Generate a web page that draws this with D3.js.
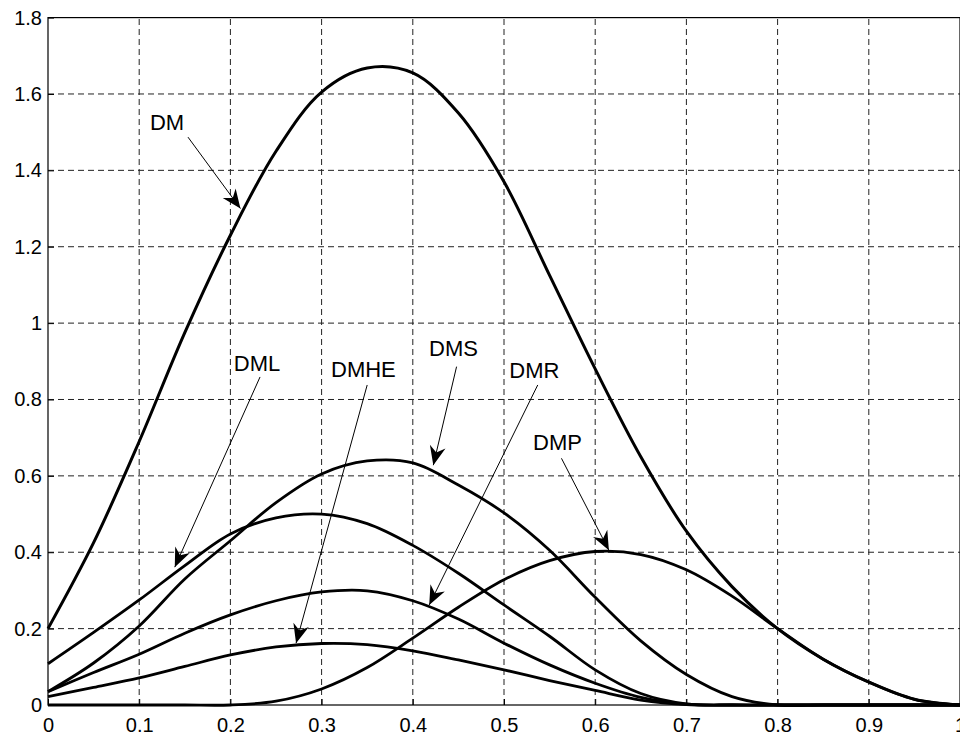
<!DOCTYPE html>
<html>
<head>
<meta charset="utf-8">
<script src="https://cdn.jsdelivr.net/npm/d3@7"></script>
<style>
  html, body { margin: 0; padding: 0; background: #fff; }
  svg { display: block; font-family: Arial, "Liberation Sans", Helvetica, sans-serif; }
</style>
</head>
<body>
<div id="chart"></div>
<script>
// sample positions along x (every 0.05)
const xValues = [0, 0.05, 0.1, 0.15, 0.2, 0.25, 0.3, 0.35, 0.4, 0.45, 0.5,
                 0.55, 0.6, 0.65, 0.7, 0.75, 0.8, 0.85, 0.9, 0.95, 1];

const dm   = [0.20, 0.425, 0.69, 0.975, 1.23, 1.45, 1.605, 1.668, 1.655, 1.55, 1.37,
              1.125, 0.88, 0.65, 0.455, 0.31, 0.20, 0.12, 0.06, 0.015, 0];
const dml  = [0.108, 0.19, 0.275, 0.365, 0.448, 0.49, 0.50, 0.475, 0.418, 0.345, 0.262,
              0.18, 0.092, 0.03, 0.003, 0, 0, 0, 0, 0, 0];
const dms  = [0.035, 0.11, 0.207, 0.33, 0.43, 0.53, 0.605, 0.639, 0.634, 0.576, 0.503,
              0.405, 0.282, 0.168, 0.08, 0.022, 0, 0, 0, 0, 0];
const dmr  = [0.035, 0.085, 0.133, 0.188, 0.236, 0.273, 0.296, 0.299, 0.273, 0.225, 0.162,
              0.105, 0.057, 0.02, 0.002, 0, 0, 0, 0, 0, 0];
const dmhe = [0.022, 0.046, 0.071, 0.101, 0.131, 0.152, 0.161, 0.158, 0.142, 0.118, 0.092,
              0.064, 0.038, 0.013, 0.001, 0, 0, 0, 0, 0, 0];
const dmp  = [0, 0, 0, 0, 0, 0.01, 0.042, 0.098, 0.175, 0.256, 0.328,
              0.378, 0.402, 0.394, 0.354, 0.285, 0.20, 0.12, 0.06, 0.015, 0];

const seriesList = [dm, dml, dms, dmr, dmhe, dmp];

const xTicks = [0, 0.1, 0.2, 0.3, 0.4, 0.5, 0.6, 0.7, 0.8, 0.9, 1];
const yTicks = [0, 0.2, 0.4, 0.6, 0.8, 1, 1.2, 1.4, 1.6, 1.8];

// annotation labels, in data units: text anchor, arrow start, arrow tip
const noteText  = ['DM', 'DML', 'DMHE', 'DMS', 'DMR', 'DMP'];
const noteAt    = [[0.114, 1.505], [0.206, 0.874], [0.3125, 0.859], [0.42, 0.914], [0.508, 0.856], [0.534, 0.6675]];
const arrowFrom = [[0.1535, 1.487], [0.2325, 0.859], [0.35, 0.838], [0.448, 0.886], [0.537, 0.838], [0.563, 0.646]];
const arrowTo   = [[0.211, 1.30], [0.139, 0.361], [0.272, 0.162], [0.4225, 0.628], [0.418, 0.262], [0.615, 0.405]];

const W = 960, H = 736;
const margin = { top: 17.6, right: 0, bottom: 31, left: 48 };

const svg = d3.select('#chart').append('svg')
    .attr('width', W)
    .attr('height', H);

const x = d3.scaleLinear().domain([0, 1]).range([margin.left, W - margin.right]);
const y = d3.scaleLinear().domain([0, 1.8]).range([H - margin.bottom, margin.top]);

// dashed grid
svg.append('g')
    .selectAll('line')
    .data(xTicks.slice(1, -1))
    .join('line')
    .attr('x1', d => x(d)).attr('x2', d => x(d))
    .attr('y1', y(0)).attr('y2', y(1.8))
    .attr('stroke', '#222')
    .attr('stroke-width', 1)
    .attr('stroke-dasharray', '6,4');

svg.append('g')
    .selectAll('line')
    .data(yTicks.slice(1, -1))
    .join('line')
    .attr('x1', x(0)).attr('x2', x(1))
    .attr('y1', d => y(d)).attr('y2', d => y(d))
    .attr('stroke', '#222')
    .attr('stroke-width', 1)
    .attr('stroke-dasharray', '6,4');

// axes (ticks point inwards, matlab style)
const xAxis = svg.append('g')
    .attr('transform', `translate(0,${y(0)})`)
    .call(d3.axisBottom(x).tickValues(xTicks).tickFormat(d3.format('~g'))
        .tickSizeInner(-6).tickSizeOuter(0).tickPadding(13));

const yAxis = svg.append('g')
    .attr('transform', `translate(${x(0)},0)`)
    .call(d3.axisLeft(y).tickValues(yTicks).tickFormat(d3.format('~g'))
        .tickSizeInner(-6).tickSizeOuter(0).tickPadding(6));

[xAxis, yAxis].forEach(g => {
    g.select('.domain').remove();
    g.selectAll('.tick line').attr('stroke', '#000');
    g.selectAll('.tick text')
        .attr('fill', '#000')
        .attr('font-size', '20px')
        .attr('font-family', 'Arial, "Liberation Sans", sans-serif');
});

// frame
svg.append('rect')
    .attr('x', x(0)).attr('y', y(1.8))
    .attr('width', x(1) - x(0)).attr('height', y(0) - y(1.8))
    .attr('fill', 'none')
    .attr('stroke', '#000')
    .attr('stroke-width', 1.2);

// curves
const line = d3.line()
    .x((d, i) => x(xValues[i]))
    .y(d => y(d))
    .curve(d3.curveCatmullRom.alpha(0.5));

seriesList.forEach((vals, i) => {
    svg.append('path')
        .datum(vals)
        .attr('fill', 'none')
        .attr('stroke', '#000')
        .attr('stroke-width', i === 0 ? 3 : 2.8)
        .attr('stroke-linejoin', 'round')
        .attr('d', line);
});

// annotations
function arrowHead(x1, y1, x2, y2) {
    const len = 19, half = 8, notch = 13;
    const a = Math.atan2(y2 - y1, x2 - x1);
    const ux = Math.cos(a), uy = Math.sin(a);
    const px = -uy, py = ux;
    const bx = x2 - ux * len, by = y2 - uy * len;
    const nx = x2 - ux * notch, ny = y2 - uy * notch;
    return `M${x2},${y2} L${bx + px * half},${by + py * half} L${nx},${ny} L${bx - px * half},${by - py * half} Z`;
}

noteText.forEach((t, i) => {
    svg.append('text')
        .attr('x', x(noteAt[i][0]) - 2)
        .attr('y', y(noteAt[i][1]))
        .attr('font-size', '22px')
        .attr('fill', '#000')
        .text(t);

    const x1 = x(arrowFrom[i][0]), y1 = y(arrowFrom[i][1]);
    const x2 = x(arrowTo[i][0]), y2 = y(arrowTo[i][1]);
    svg.append('line')
        .attr('x1', x1).attr('y1', y1)
        .attr('x2', x2).attr('y2', y2)
        .attr('stroke', '#000')
        .attr('stroke-width', 1);
    svg.append('path')
        .attr('d', arrowHead(x1, y1, x2, y2))
        .attr('fill', '#000');
});
</script>
</body>
</html>
